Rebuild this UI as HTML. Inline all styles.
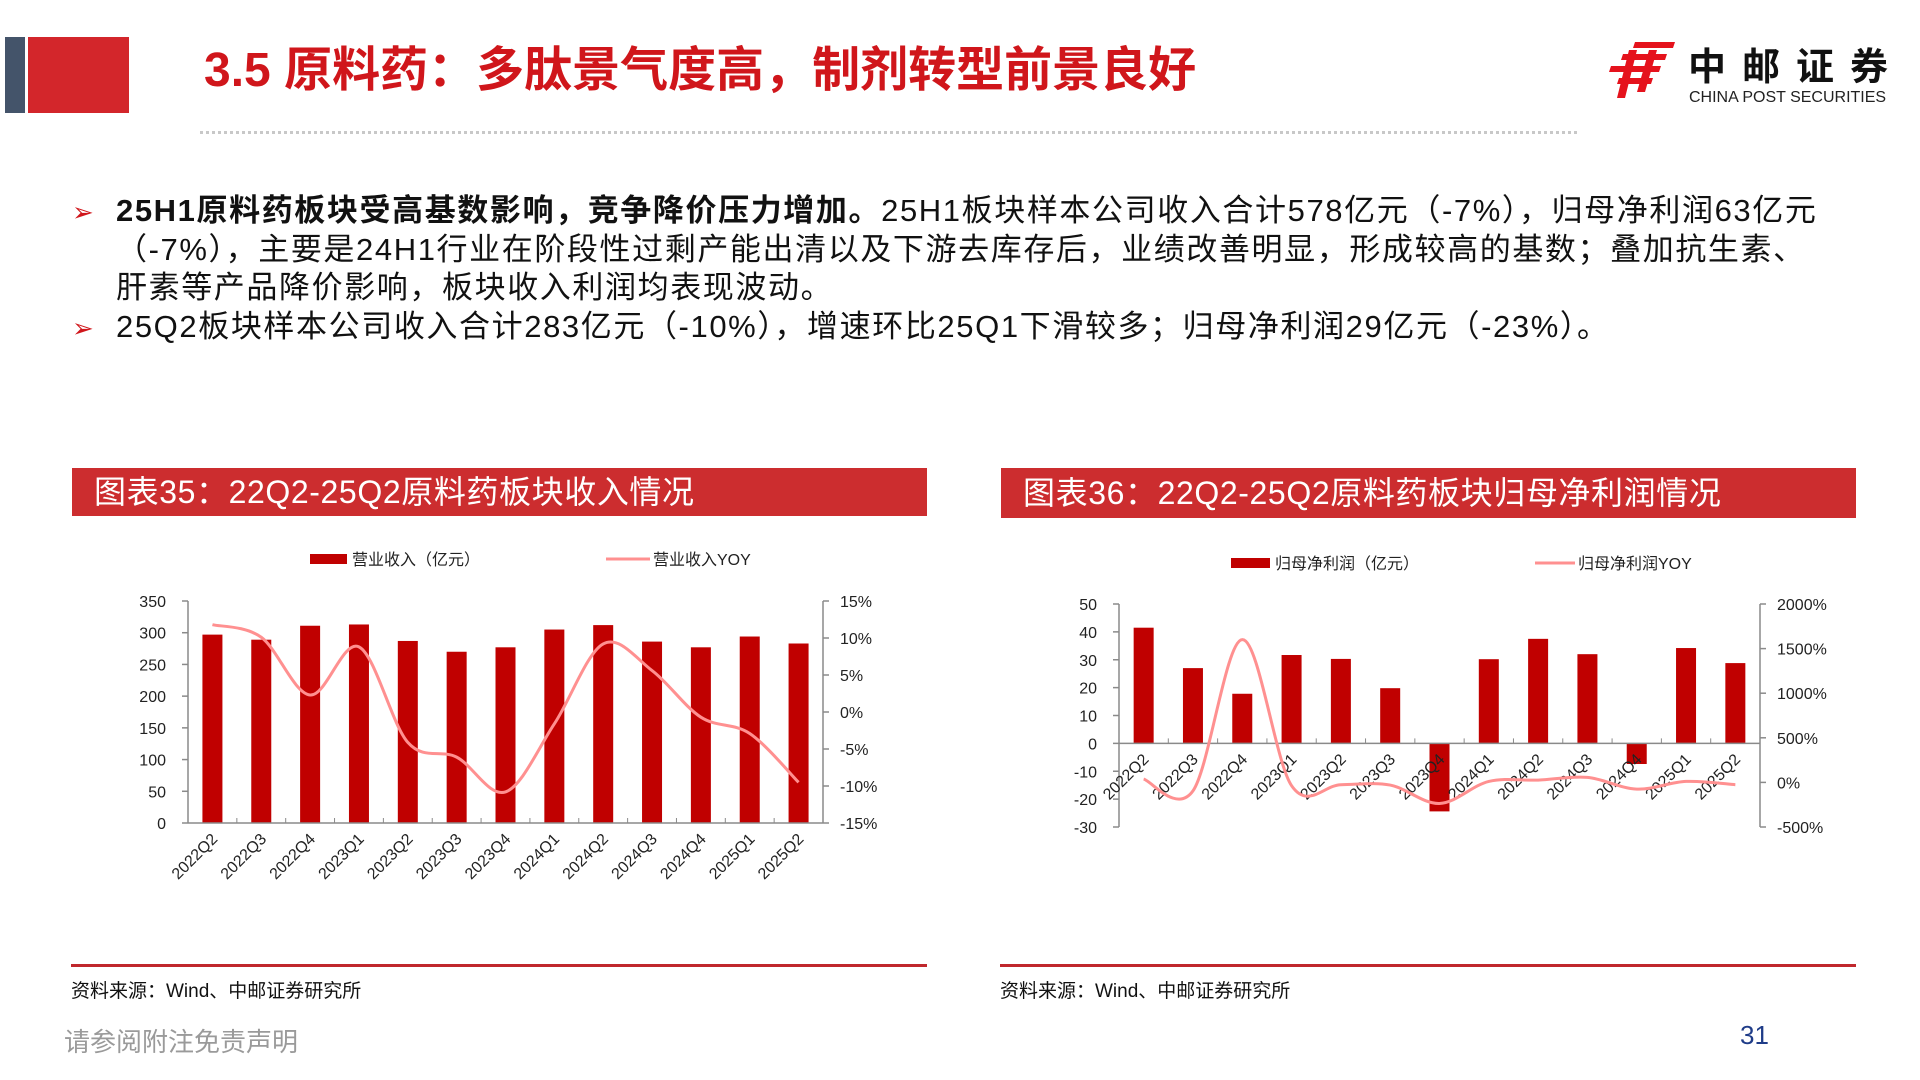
<!DOCTYPE html>
<html><head><meta charset="utf-8">
<style>
body{margin:0;width:1920px;height:1080px;overflow:hidden;background:#fff;font-family:"Liberation Sans","Noto Sans CJK SC",sans-serif;position:relative}
.abs{position:absolute;white-space:nowrap}
.bul{font-size:31px;color:#111;line-height:38.5px;letter-spacing:1.6px}
</style></head><body>
<div class="abs" style="left:5px;top:37px;width:20px;height:76px;background:#44546a"></div>
<div class="abs" style="left:28px;top:37px;width:101px;height:76px;background:#d3262b"></div>
<div class="abs" style="left:204px;top:42px;font-size:48px;font-weight:bold;color:#d0161b;line-height:58px">3.5 原料药：多肽景气度高，制剂转型前景良好</div>
<div class="abs" style="left:200px;top:131px;width:1377px;height:0;border-top:3px dotted #c8c8c8"></div>
<svg class="abs" style="left:1605px;top:42px" width="72" height="56" viewBox="0 0 72 56">
<g fill="#e5121c"><polygon points="30,0 70,0 68,6 28,6"/><polygon points="18,12 62,12 60,18 16,18"/><polygon points="6,24 56,24 54,30 4,30"/><polygon points="14,36 48,36 46,42 12,42"/><polygon points="24,8 32,8 20,56 12,56"/><polygon points="44,8 52,8 40,50 32,50"/></g></svg>
<div class="abs" style="left:1688px;top:46px;font-size:38px;font-weight:bold;letter-spacing:16px;color:#111;line-height:44px">中邮证券</div>
<div class="abs" style="left:1689px;top:88px;font-size:16px;color:#222;line-height:20px">CHINA POST SECURITIES</div>

<div class="abs" style="left:72px;top:193px;color:#d0161b;font-size:26px;line-height:38px">➢</div>
<div class="abs bul" style="left:116px;top:192px"><b>25H1原料药板块受高基数影响，竞争降价压力增加。</b>25H1板块样本公司收入合计578亿元（-7%），归母净利润63亿元<br>（-7%），主要是24H1行业在阶段性过剩产能出清以及下游去库存后，业绩改善明显，形成较高的基数；叠加抗生素、<br>肝素等产品降价影响，板块收入利润均表现波动。</div>
<div class="abs" style="left:72px;top:309px;color:#d0161b;font-size:26px;line-height:38px">➢</div>
<div class="abs bul" style="left:116px;top:308px">25Q2板块样本公司收入合计283亿元（-10%），增速环比25Q1下滑较多；归母净利润29亿元（-23%）。</div>

<div class="abs" style="left:72px;top:468px;width:855px;height:48px;background:#cc2d2f;color:#fff;font-size:32px;letter-spacing:0.6px;line-height:48px;padding-left:22px;box-sizing:border-box">图表35：22Q2-25Q2原料药板块收入情况</div>
<div class="abs" style="left:1001px;top:468px;width:855px;height:50px;background:#cc2d2f;color:#fff;font-size:32px;letter-spacing:0.6px;line-height:50px;padding-left:22px;box-sizing:border-box">图表36：22Q2-25Q2原料药板块归母净利润情况</div>

<svg id="charts" class="abs" style="left:0;top:0" width="1920" height="1080"></svg>

<div class="abs" style="left:71px;top:964px;width:856px;height:3px;background:#c0282d"></div>
<div class="abs" style="left:1000px;top:964px;width:856px;height:3px;background:#c0282d"></div>
<div class="abs" style="left:71px;top:976px;font-size:19px;color:#111">资料来源：Wind、中邮证券研究所</div>
<div class="abs" style="left:1000px;top:976px;font-size:19px;color:#111">资料来源：Wind、中邮证券研究所</div>
<div class="abs" style="left:64px;top:1022px;font-size:26px;color:#9a9a9a">请参阅附注免责声明</div>
<div class="abs" style="left:1740px;top:1020px;font-size:26px;color:#1f3c88">31</div>

<script>
const categories = ["2022Q2","2022Q3","2022Q4","2023Q1","2023Q2","2023Q3","2023Q4","2024Q1","2024Q2","2024Q3","2024Q4","2025Q1","2025Q2"];
const revenue = [297,289,311,313,287,270,277,305,312,286,277,294,283];
const revenueYoy = [11.8,10.1,2.3,8.8,-4.1,-6.1,-10.8,-1.6,9.2,5.6,-0.7,-2.9,-9.5];
const profit = [41.5,27,17.8,31.7,30.3,19.8,-24.4,30.2,37.5,32,-7.4,34.2,28.8];
const profitYoy = [37,-95,1600,-37,-26,-30,-236,11,26,56,-75,11,-26];
const leftTicks1 = [0,50,100,150,200,250,300,350];
const rightTicks1 = [-15,-10,-5,0,5,10,15];
const leftTicks2 = [-30,-20,-10,0,10,20,30,40,50];
const rightTicks2 = [-500,0,500,1000,1500,2000];

const NS="http://www.w3.org/2000/svg";
const svg=document.getElementById('charts');
function mk(tag,attrs,parent){const e=document.createElementNS(NS,tag);for(const k in attrs)e.setAttribute(k,attrs[k]);(parent||svg).appendChild(e);return e;}
function smooth(pts){let d="M"+pts[0][0]+","+pts[0][1];for(let i=0;i<pts.length-1;i++){const p0=pts[i-1]||pts[i],p1=pts[i],p2=pts[i+1],p3=pts[i+2]||p2;const c1x=p1[0]+(p2[0]-p0[0])/6,c1y=p1[1]+(p2[1]-p0[1])/6,c2x=p2[0]-(p3[0]-p1[0])/6,c2y=p2[1]-(p3[1]-p1[1])/6;d+=` C${c1x},${c1y} ${c2x},${c2y} ${p2[0]},${p2[1]}`;}return d;}

function drawChart(c){
  const yL=v=>c.bottom-(v-c.lmin)/(c.lmax-c.lmin)*(c.bottom-c.top);
  const yR=v=>c.bottom-(v-c.rmin)/(c.rmax-c.rmin)*(c.bottom-c.top);
  const bw=(c.x1-c.x0)/categories.length;
  const xC=i=>c.x0+bw*(i+0.5);
  const g=mk('g',{});
  
  
  const ax='#8a8a8a';
  const la=mk('line',{x1:c.x0,x2:c.x0,y1:c.top,y2:c.bottom,stroke:ax,'stroke-width':1.5},g);
  
  
  c.lt.forEach(v=>{const y=yL(v);mk('line',{x1:c.x0-6,x2:c.x0,y1:y,y2:y,stroke:ax,'stroke-width':1.5},g);
    const t=mk('text',{x:c.x0-22,y:y+6,'text-anchor':'end','font-size':16,fill:'#222'},g);t.textContent=v;
    
    });
  const ra=mk('line',{x1:c.x1,x2:c.x1,y1:c.top,y2:c.bottom,stroke:ax,'stroke-width':1.5},g);
  
  
  c.rt.forEach(v=>{const y=yR(v);mk('line',{x1:c.x1,x2:c.x1+6,y1:y,y2:y,stroke:ax,'stroke-width':1.5},g);
    const t=mk('text',{x:c.x1+17,y:y+6,'font-size':16,fill:'#222'},g);t.textContent=v+'%';
    
    });
  const y0=yL(0);
  c.bars.forEach((v,i)=>{const y=yL(v);const r=mk('rect',{x:xC(i)-10,y:Math.min(y,y0),width:20,height:Math.abs(y0-y),fill:'#c00000'},g);
    
    });
  const xa=mk('line',{x1:c.x0,x2:c.x1,y1:y0,y2:y0,stroke:ax,'stroke-width':1.5},g);
  
  
  for(let i=0;i<=categories.length;i++){const x=c.x0+bw*i;mk('line',{x1:x,x2:x,y1:y0,y2:y0-5,stroke:ax,'stroke-width':1},g);}
  categories.forEach((cat,i)=>{const x=xC(i)+6,y=y0+17;const t=mk('text',{x:x,y:y,'text-anchor':'end','font-size':16,fill:'#222',transform:`rotate(-45 ${x} ${y})`},g);t.textContent=cat;
    
    });
  const pts=c.line.map((v,i)=>[xC(i),yR(v)]);
  const p=mk('path',{d:smooth(pts),fill:'none',stroke:'#ff9090','stroke-width':3},g);
  
  
  const lb=mk('rect',{x:c.leg[0],y:c.legY-5,width:c.leg[1]-c.leg[0],height:10,fill:'#c00000'},g);
  
  
  const lt1=mk('text',{x:c.leg[1]+5,y:c.legY+6,'font-size':16,fill:'#222'},g);lt1.textContent=c.legText[0];
  
  
  const ll=mk('line',{x1:c.leg[2],x2:c.leg[3],y1:c.legY,y2:c.legY,stroke:'#ff9090','stroke-width':3},g);
  
  
  const lt2=mk('text',{x:c.leg[3]+3,y:c.legY+6,'font-size':16,fill:'#222'},g);lt2.textContent=c.legText[1];
  
  
}
drawChart({id:'chart1',x0:188,x1:823,top:601,bottom:823,lmin:0,lmax:350,rmin:-15,rmax:15,lt:leftTicks1,rt:rightTicks1,bars:revenue,line:revenueYoy,leg:[310,347,606,650],legY:559,legText:['营业收入（亿元）','营业收入YOY']});
drawChart({id:'chart2',x0:1119,x1:1760,top:604,bottom:827,lmin:-30,lmax:50,rmin:-500,rmax:2000,lt:leftTicks2,rt:rightTicks2,bars:profit,line:profitYoy,leg:[1231,1270,1535,1575],legY:563,legText:['归母净利润（亿元）','归母净利润YOY']});
</script>
</body></html>
